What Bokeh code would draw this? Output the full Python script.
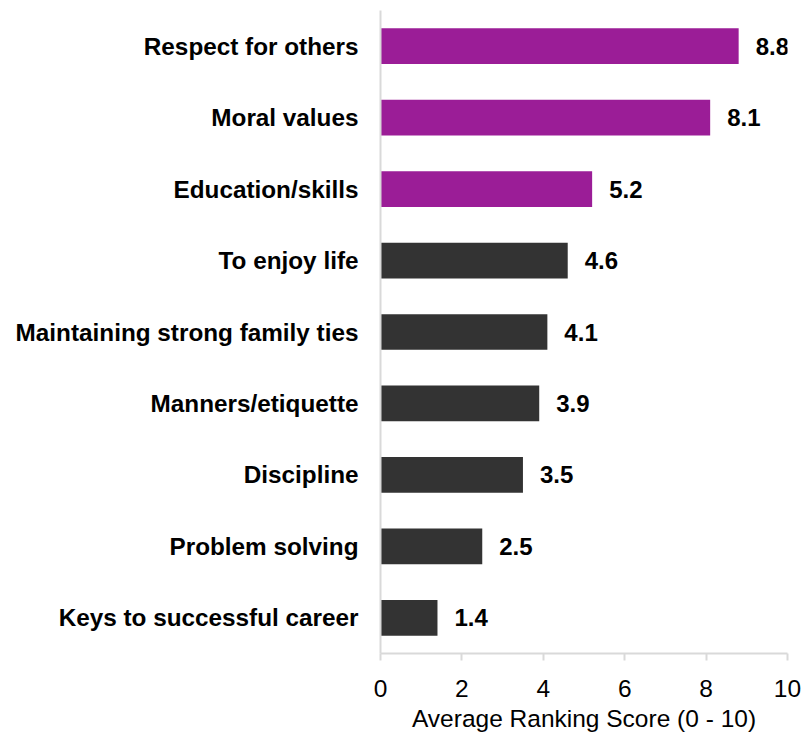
from bokeh.plotting import figure
from bokeh.models import ColumnDataSource, Range1d, FactorRange, FixedTicker
from bokeh.core.properties import value
from bokeh.embed import file_html
from bokeh.resources import INLINE

categories = ["Respect for others", "Moral values", "Education/skills", "To enjoy life",
              "Maintaining strong family ties", "Manners/etiquette", "Discipline",
              "Problem solving", "Keys to successful career"]
scores = [8.8, 8.1, 5.2, 4.6, 4.1, 3.9, 3.5, 2.5, 1.4]
bar_colors = ["#9B1D97", "#9B1D97", "#9B1D97", "#333333", "#333333", "#333333",
              "#333333", "#333333", "#333333"]
x_ticks = [0, 2, 4, 6, 8, 10]
x_title = "Average Ranking Score (0 - 10)"

src = ColumnDataSource(dict(cat=categories, score=scores, color=bar_colors,
                            lbl=["%.1f" % s for s in scores]))

p = figure(width=801, height=736, output_backend="svg", toolbar_location=None,
           y_range=FactorRange(factors=categories[::-1], range_padding=0),
           x_range=Range1d(0, 10),
           min_border_left=380, min_border_top=10, min_border_right=14, min_border_bottom=83)
p.outline_line_color = None
p.grid.visible = False
p.background_fill_color = "white"

p.hbar(y="cat", right="score", left=0, height=0.5, color="color", line_color=None, source=src)
p.text(x="score", y="cat", text="lbl", source=src, x_offset=17,
       text_baseline="middle", text_align="left",
       text_font=value("Liberation Sans"), text_font_style="bold",
       text_font_size="24px", text_color="black")

ya = p.yaxis[0]
ya.axis_line_color = "#D9D9D9"
ya.axis_line_width = 2
ya.major_tick_line_color = None
ya.minor_tick_line_color = None
ya.major_tick_out = 0
ya.major_label_standoff = 22
ya.major_label_text_font = "Liberation Sans"
ya.major_label_text_font_style = "bold"
ya.major_label_text_font_size = "24.3px"
ya.major_label_text_color = "black"

xa = p.xaxis[0]
xa.ticker = FixedTicker(ticks=x_ticks)
xa.axis_line_color = "#D9D9D9"
xa.axis_line_width = 2
xa.major_tick_line_color = "#D9D9D9"
xa.major_tick_line_width = 2
xa.major_tick_out = 7
xa.major_tick_in = 0
xa.minor_tick_line_color = None
xa.major_label_standoff = 19
xa.major_label_text_font = "Liberation Sans"
xa.major_label_text_font_size = "24.5px"
xa.major_label_text_color = "black"
xa.axis_label = x_title
xa.axis_label_standoff = 5
xa.axis_label_text_font = "Liberation Sans"
xa.axis_label_text_font_style = "normal"
xa.axis_label_text_font_size = "24.5px"
xa.axis_label_text_color = "black"

open("out.html", "w").write(file_html(p, INLINE))
